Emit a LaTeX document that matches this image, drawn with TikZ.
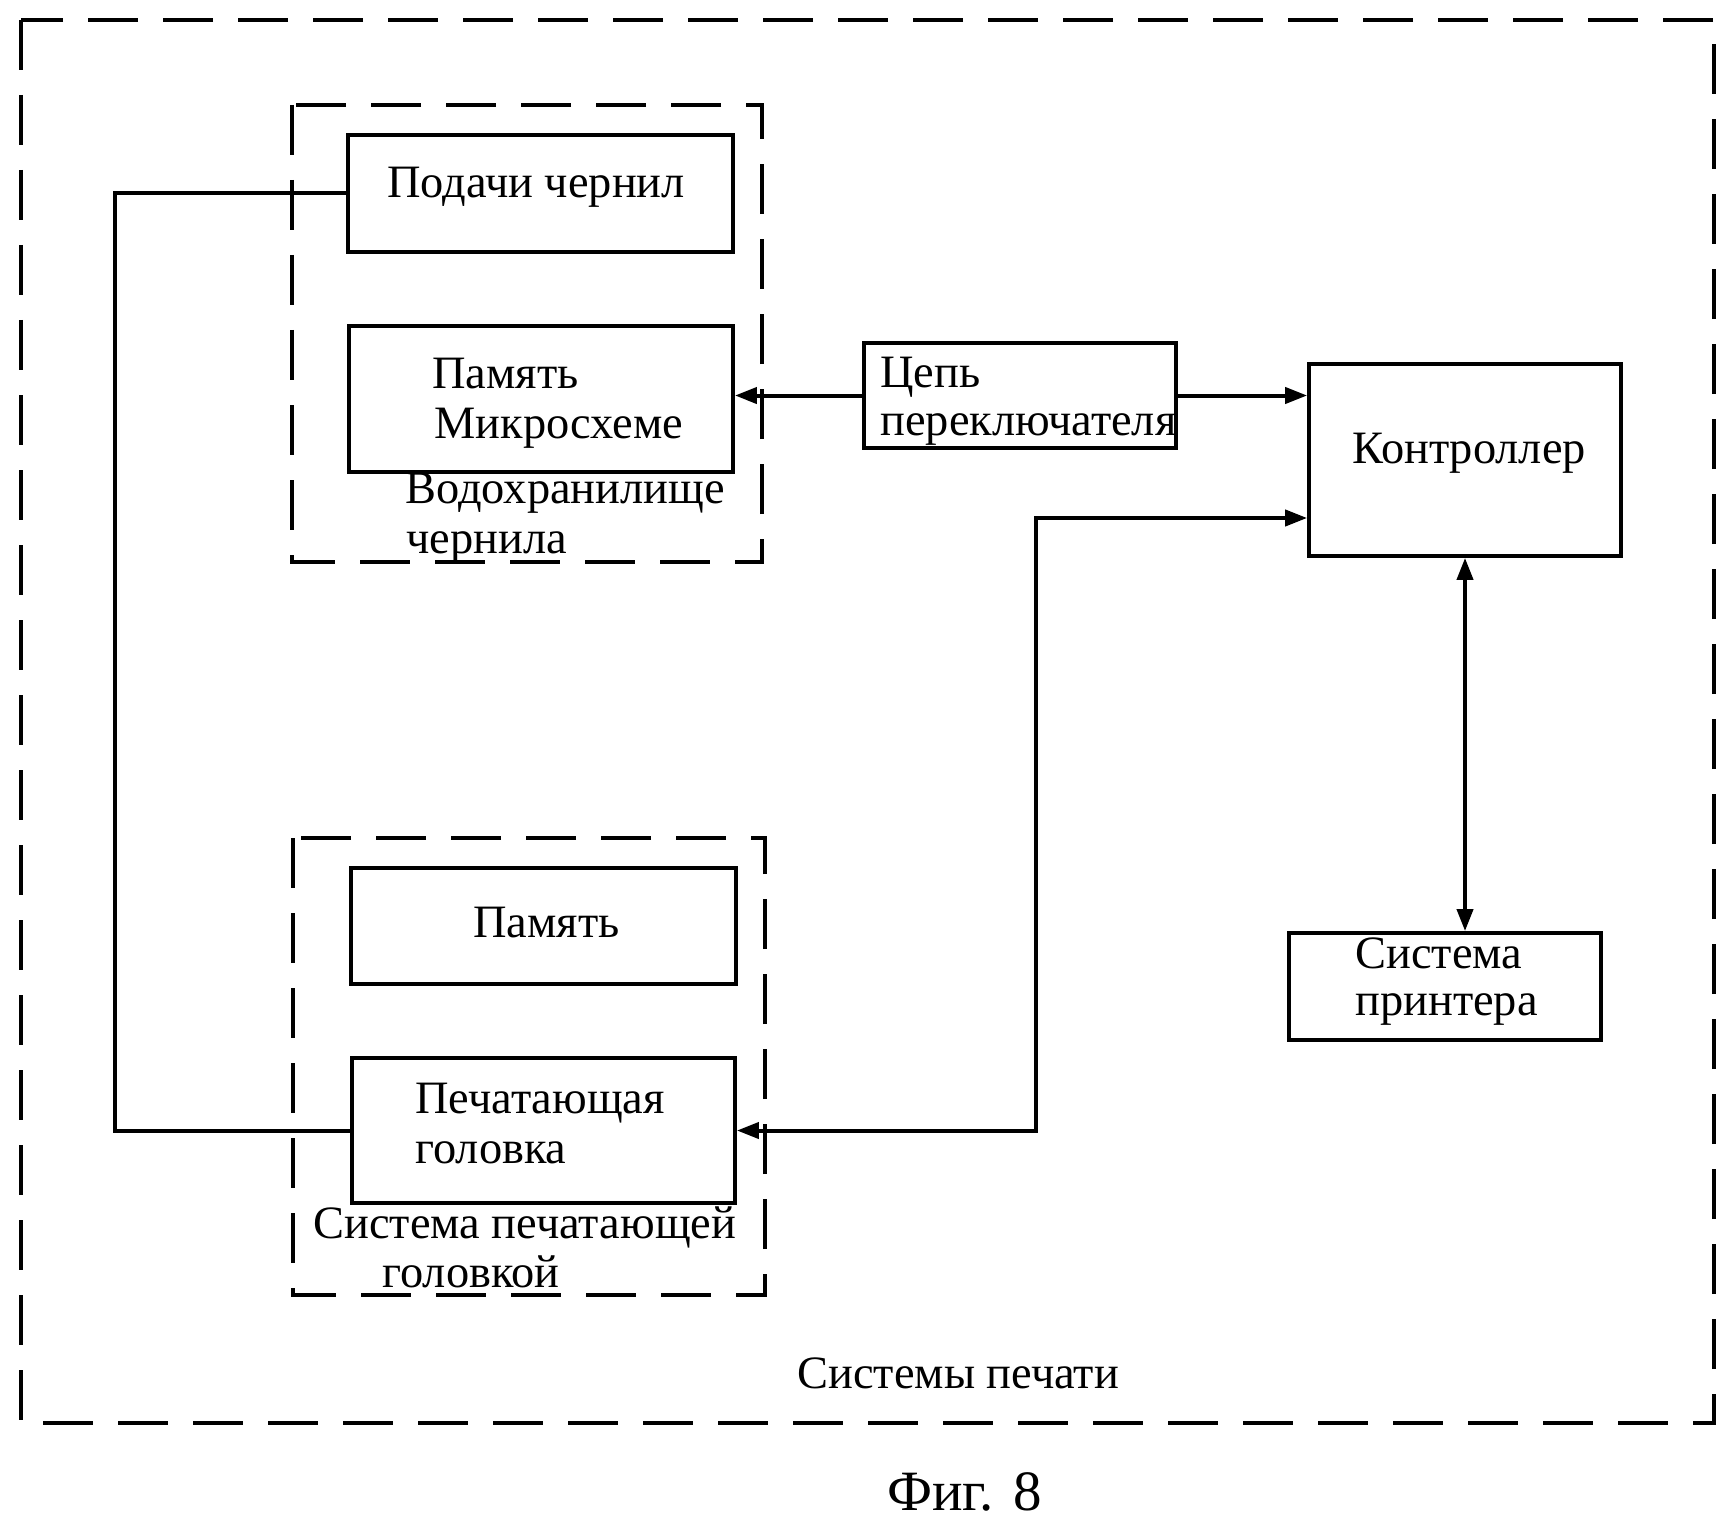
\documentclass[tikz,border=0pt]{standalone}
\usepackage{fontspec}
\setmainfont{Liberation Serif}
\usetikzlibrary{arrows.meta}
\begin{document}
\begin{tikzpicture}[x=0.5pt,y=-0.5pt,
  box/.style={draw, line width=1.9pt, rectangle, inner sep=0pt},
  grp/.style={draw, line width=2pt, dash pattern=on 25pt off 12.5pt},
  conn/.style={line width=2pt},
  tip/.style={-{Triangle[length=11pt,width=8pt]}},
  both/.style={{Triangle[length=11pt,width=8pt]}-{Triangle[length=11pt,width=8pt]}},
  lbl/.style={anchor=base west, inner sep=0pt, font=\fontsize{23.2}{25}\selectfont}]
\useasboundingbox (0,0) rectangle (1732,1524);

% dashed frames
\draw[grp] (21,20) rectangle (1714,1423);
\draw[grp] (292,105) rectangle (762,562);
\draw[grp] (293,838) rectangle (765,1295);

% boxes
\node[box, minimum width=192.5pt, minimum height=58.5pt] (podachi) at (540.5,193.5) {};
\node[box, minimum width=192pt, minimum height=73pt] (pammikr) at (541,399) {};
\node[box, minimum width=156pt, minimum height=52.5pt] (tsep) at (1020,395.5) {};
\node[box, minimum width=156pt, minimum height=96pt] (kontr) at (1465,460) {};
\node[box, minimum width=156pt, minimum height=53.5pt] (syspr) at (1445,986.5) {};
\node[box, minimum width=192.5pt, minimum height=58pt] (pamyat) at (543.5,926) {};
\node[box, minimum width=191.5pt, minimum height=72.5pt] (pechat) at (543.5,1130.5) {};

% texts
\node[lbl] (t1) at (387,198) {Подачи чернил};
\node[lbl] (t2) at (432,388) {Память};
\node[lbl] (t3) at (434,438) {Микросхеме};
\node[lbl] (t4) at (405,503) {Водохранилище};
\node[lbl] (t5) at (406,553) {чернила};
\node[lbl] (t6) at (880,387) {Цепь};
\node[lbl] (t7) at (880,435) {переключателя};
\node[lbl] (t8) at (1352,463) {Контроллер};
\node[lbl] (t9) at (1355,968) {Система};
\node[lbl] (t10) at (1355,1015) {принтера};
\node[lbl] (t11) at (473,937) {Память};
\node[lbl] (t12) at (415,1113) {Печатающая};
\node[lbl] (t13) at (415,1163) {головка};
\node[lbl] (t14) at (313,1238) {Система печатающей};
\node[lbl] (t15) at (382,1287) {головкой};
\node[lbl] (t16) at (797,1388) {Системы печати};
\node[anchor=base west, inner sep=0pt, font=\fontsize{28.5}{30}\selectfont] (fig) at (887,1510) {Фиг. 8};

% connectors
\coordinate (bus) at (115,0);
\coordinate (bend) at (1036,518);
\draw[conn] (podachi.west) -- (podachi.west -| bus) |- (pechat.west);
\draw[conn, tip] (tsep.west) -- (pammikr.east |- tsep.west);
\draw[conn, tip] (tsep.east) -- (kontr.west |- tsep.east);
\draw[conn, both] (pechat.east) -| (bend) -- (kontr.west |- bend);
\draw[conn, both] (kontr.south) -- (kontr.south |- syspr.north);
\end{tikzpicture}
\end{document}
